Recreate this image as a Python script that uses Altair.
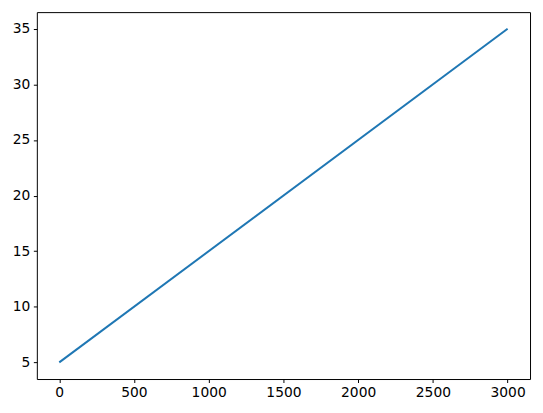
import altair as alt
import pandas as pd

x_vals = [0, 3000]
y_vals = [5, 35]
x_ticks = [0, 500, 1000, 1500, 2000, 2500, 3000]
y_ticks = [5, 10, 15, 20, 25, 30, 35]

df = pd.DataFrame({"x": x_vals, "y": y_vals})

axis_common = dict(
    grid=False, domain=False, tickColor="black", tickWidth=1, tickSize=3.5,
    labelColor="black", labelFont="DejaVu Sans", labelFontSize=13.9,
    labelPadding=3.5, title=None, format="d",
)

chart = alt.Chart(df).mark_line(color="#1f77b4", strokeWidth=2).encode(
    x=alt.X("x:Q", scale=alt.Scale(domain=[-150, 3150], nice=False, zero=False),
            axis=alt.Axis(values=x_ticks, labelFlush=False, **axis_common)),
    y=alt.Y("y:Q", scale=alt.Scale(domain=[3.5, 36.5], nice=False, zero=False),
            axis=alt.Axis(values=y_ticks, **axis_common)),
).properties(
    width=496, height=369,
    autosize=alt.AutoSizeParams(type="none"),
    padding={"left": 29, "top": 3, "right": 5, "bottom": 30},
    background="white",
).configure_view(stroke="black", strokeWidth=1)

chart.save("out.html", embed_options={"renderer": "svg", "actions": False})
